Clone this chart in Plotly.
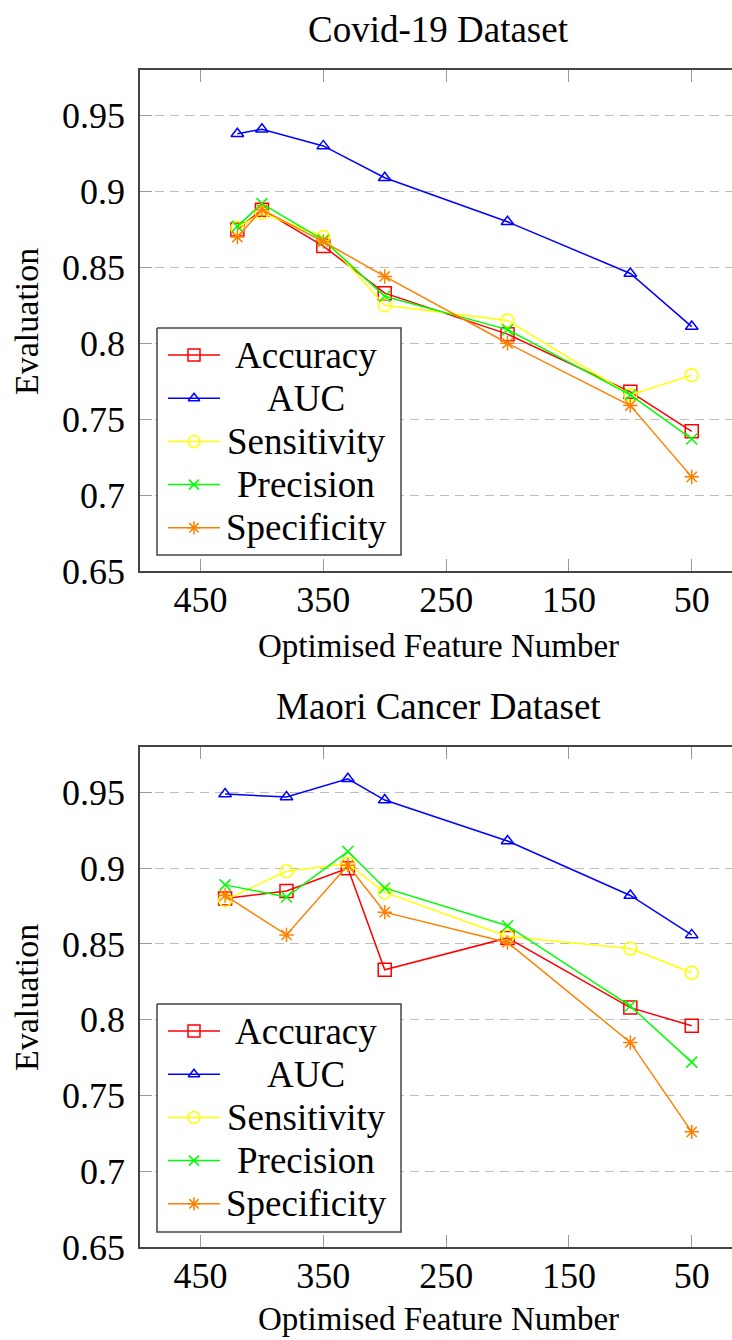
import plotly.graph_objects as go

W, H = 732, 1340

# ---------------- data ----------------
series_names = ["Accuracy", "AUC", "Sensitivity", "Precision", "Specificity"]

covid_features = [420, 400, 350, 300, 200, 100, 50]
covid_accuracy = [0.875, 0.888, 0.864, 0.833, 0.806, 0.768, 0.742]
covid_auc = [0.938, 0.941, 0.930, 0.909, 0.880, 0.846, 0.811]
covid_sensitivity = [0.876, 0.886, 0.870, 0.825, 0.815, 0.766, 0.779]
covid_precision = [0.877, 0.892, 0.868, 0.831, 0.809, 0.766, 0.737]
covid_specificity = [0.870, 0.888, 0.867, 0.844, 0.800, 0.759, 0.712]

maori_features = [430, 380, 330, 300, 200, 100, 50]
maori_accuracy = [0.880, 0.885, 0.900, 0.833, 0.854, 0.808, 0.796]
maori_auc = [0.949, 0.947, 0.959, 0.945, 0.918, 0.882, 0.856]
maori_sensitivity = [0.879, 0.898, 0.903, 0.884, 0.855, 0.847, 0.831]
maori_precision = [0.889, 0.881, 0.911, 0.887, 0.862, 0.809, 0.772]
maori_specificity = [0.882, 0.856, 0.902, 0.871, 0.851, 0.785, 0.726]

x_ticks = [450, 350, 250, 150, 50]
y_ticks = [0.65, 0.70, 0.75, 0.80, 0.85, 0.90, 0.95]
y_ticktext = ["0.65", "0.7", "0.75", "0.8", "0.85", "0.9", "0.95"]

titles = ["Covid-19 Dataset", "Maori Cancer Dataset"]
x_title = "Optimised Feature Number"
y_title = "Evaluation"

# ---------------- styles ----------------
colors = ["#ff0000", "#0000ff", "#ffff00", "#00ff00", "#ff8000"]
symbols = ["square-open", "triangle-up-open", "circle-open", "x-thin-open", "asterisk-open"]
msizes = [13, 11, 13, 11, 12]
FONT = "Liberation Serif"

# pixel layout
PLOT_LEFT = 140
panels = [
    dict(top=70, bottom=571, title_y=30, xlab_y=646, ylab_y=322, leg_top=328, leg_bottom=555),
    dict(top=747, bottom=1247, title_y=706, xlab_y=1319, ylab_y=998, leg_top=1004, leg_bottom=1232),
]
LEG_L, LEG_R = 157, 401
LEG_LINE = (168, 220)
LEG_MARK_X = 194
LEG_TEXT_X = 306
LEG_ROW0 = 27
LEG_STEP = 43.2

datasets = [
    (covid_features, [covid_accuracy, covid_auc, covid_sensitivity, covid_precision, covid_specificity]),
    (maori_features, [maori_accuracy, maori_auc, maori_sensitivity, maori_precision, maori_specificity]),
]

fig = go.Figure()

for p, (feats, vals) in enumerate(datasets):
    xa = "x" if p == 0 else "x2"
    ya = "y" if p == 0 else "y2"
    for name, v, c, s, ms in zip(series_names, vals, colors, symbols, msizes):
        fig.add_trace(go.Scatter(
            x=feats, y=v, mode="lines+markers", name=name,
            line=dict(color=c, width=1.5),
            marker=dict(symbol=s, size=ms, color=c, line=dict(color=c, width=1.5)),
            xaxis=xa, yaxis=ya, showlegend=False, cliponaxis=False,
        ))

# overlay pixel subplot for custom legends
annotations = []
for p, pan in enumerate(panels):
    lt, lb = pan["leg_top"], pan["leg_bottom"]
    fig.add_trace(go.Scatter(
        x=[LEG_L, LEG_R, LEG_R, LEG_L, LEG_L], y=[lt, lt, lb, lb, lt],
        mode="lines", fill="toself", fillcolor="white",
        line=dict(color="#444444", width=1.5),
        xaxis="x3", yaxis="y3", showlegend=False, hoverinfo="skip",
    ))
    for i, (name, c, s, ms) in enumerate(zip(series_names, colors, symbols, msizes)):
        ry = lt + LEG_ROW0 + i * LEG_STEP
        fig.add_trace(go.Scatter(
            x=[LEG_LINE[0], LEG_LINE[1]], y=[ry, ry], mode="lines",
            line=dict(color=c, width=1.5), xaxis="x3", yaxis="y3",
            showlegend=False, hoverinfo="skip",
        ))
        fig.add_trace(go.Scatter(
            x=[LEG_MARK_X], y=[ry], mode="markers",
            marker=dict(symbol=s, size=ms - 1, color=c, line=dict(color=c, width=1.5)),
            xaxis="x3", yaxis="y3", showlegend=False, hoverinfo="skip",
        ))
        annotations.append(dict(
            x=LEG_TEXT_X / W, y=1 - ry / H, xref="paper", yref="paper",
            text=name, showarrow=False, xanchor="center", yanchor="middle",
            font=dict(family=FONT, size=37, color="black"),
        ))
    cx = (PLOT_LEFT + 736) / 2 / W
    annotations.append(dict(
        x=cx, y=1 - pan["title_y"] / H, xref="paper", yref="paper",
        text=titles[p], showarrow=False, xanchor="center", yanchor="middle",
        font=dict(family=FONT, size=37, color="black"),
    ))
    annotations.append(dict(
        x=cx, y=1 - pan["xlab_y"] / H, xref="paper", yref="paper",
        text=x_title, showarrow=False, xanchor="center", yanchor="middle",
        font=dict(family=FONT, size=33, color="black"),
    ))
    annotations.append(dict(
        x=26 / W, y=1 - pan["ylab_y"] / H, xref="paper", yref="paper",
        text=y_title, showarrow=False, xanchor="center", yanchor="middle",
        textangle=-90, font=dict(family=FONT, size=34, color="black"),
    ))

xaxis_common = dict(
    range=[499.3, 17.2], tickvals=x_ticks, ticks="inside", ticklen=12,
    tickcolor="#9a9a9a", tickwidth=1, showline=True, linecolor="#444444",
    linewidth=1.5, mirror="ticks", showgrid=False, zeroline=False,
    tickfont=dict(family=FONT, size=36, color="black"), ticklabelstandoff=-4,
    domain=[PLOT_LEFT / W, 1.0],
)
yaxis_common = dict(
    range=[0.65, 0.98], tickvals=y_ticks, ticktext=y_ticktext, ticks="inside",
    ticklen=12, tickcolor="#9a9a9a", tickwidth=1, showline=True,
    linecolor="#444444", linewidth=1.5, mirror=False, showgrid=True,
    gridcolor="#bdbdbd", gridwidth=1.2, griddash="9px,6px", zeroline=False,
    tickfont=dict(family=FONT, size=36, color="black"), ticklabelstandoff=6,
)

fig.update_layout(
    width=W, height=H, autosize=False,
    margin=dict(l=0, r=0, t=0, b=0, pad=0, autoexpand=False),
    paper_bgcolor="white", plot_bgcolor="rgba(0,0,0,0)", showlegend=False,
    xaxis=dict(**xaxis_common, anchor="y"),
    yaxis=dict(**yaxis_common, anchor="x",
               domain=[1 - panels[0]["bottom"] / H, 1 - panels[0]["top"] / H]),
    xaxis2=dict(**xaxis_common, anchor="y2"),
    yaxis2=dict(**yaxis_common, anchor="x2",
                domain=[1 - panels[1]["bottom"] / H, 1 - panels[1]["top"] / H]),
    xaxis3=dict(domain=[0, 1], range=[0, W], visible=False, anchor="y3", fixedrange=True),
    yaxis3=dict(domain=[0, 1], range=[H, 0], visible=False, anchor="x3", fixedrange=True),
    annotations=annotations,
)

fig.write_html(
    "out.html",
    config={"displayModeBar": False, "responsive": False},
    post_script="document.documentElement.style.margin='0';document.body.style.margin='0';"
                "document.body.style.padding='0';document.body.style.overflow='hidden';",
)
